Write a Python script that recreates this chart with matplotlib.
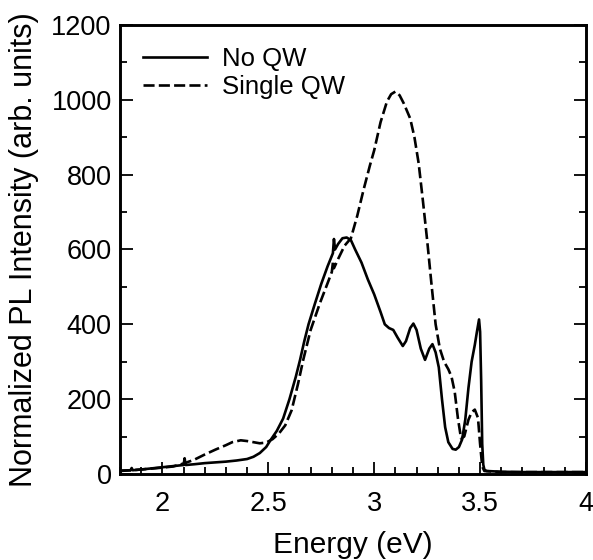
import matplotlib
matplotlib.use("Agg")
import matplotlib.pyplot as plt
from matplotlib.ticker import MultipleLocator

plt.rcParams['font.family'] = ['Liberation Sans', 'DejaVu Sans']

# No QW (solid)
e_noqw = [1.80, 1.85, 1.855, 1.86, 1.90, 1.95, 2.00, 2.05, 2.10, 2.105, 2.11, 2.15, 2.20, 2.25,
          2.30, 2.35, 2.40, 2.43, 2.46, 2.49, 2.51, 2.54, 2.57, 2.60, 2.63, 2.65, 2.67, 2.69,
          2.72, 2.75, 2.78, 2.805, 2.81, 2.815, 2.83, 2.85, 2.87, 2.89, 2.91, 2.94, 2.97,
          3.00, 3.03, 3.05, 3.07, 3.09, 3.11, 3.135, 3.15, 3.17, 3.185, 3.20, 3.22, 3.24,
          3.26, 3.275, 3.29, 3.305, 3.32, 3.335, 3.35, 3.37, 3.385, 3.40, 3.415, 3.43, 3.445,
          3.46, 3.475, 3.485, 3.495, 3.50, 3.505, 3.51, 3.515, 3.52, 3.53, 3.60, 3.70, 3.80,
          3.90, 4.00]
i_noqw = [9, 10, 16, 10, 12, 15, 18, 21, 24, 42, 24, 26, 29, 31,
          33, 36, 40, 46, 56, 72, 90, 115, 148, 200, 260, 305, 355, 400,
          455, 508, 555, 590, 628, 600, 615, 630, 632, 625, 600, 565, 520,
          480, 433, 400, 390, 385, 365, 342, 355, 390, 402, 385, 335, 305,
          335, 347, 325, 285, 200, 125, 85, 67, 65, 72, 92, 145, 230,
          300, 345, 380, 413, 380, 250, 80, 25, 12, 8, 6, 5, 5,
          5, 5]

# Single QW (dashed)
e_sqw = [1.80, 1.90, 2.00, 2.05, 2.10, 2.15, 2.20, 2.25, 2.30, 2.33, 2.37, 2.40, 2.43, 2.46,
         2.49, 2.52, 2.55, 2.58, 2.61, 2.64, 2.665, 2.70, 2.744, 2.78, 2.80, 2.806, 2.81,
         2.83, 2.86, 2.89, 2.92, 2.95, 2.98, 3.00, 3.03, 3.06, 3.08, 3.10, 3.12, 3.14, 3.17,
         3.19, 3.21, 3.23, 3.25, 3.27, 3.29, 3.31, 3.33, 3.35, 3.365, 3.38, 3.395, 3.41,
         3.425, 3.445, 3.46, 3.475, 3.49, 3.50, 3.51, 3.52, 3.60, 3.70, 3.80, 3.90, 4.00]
i_sqw = [8, 12, 17, 20, 28, 38, 52, 65, 77, 85, 90, 88, 85, 82,
         84, 93, 108, 130, 170, 240, 305, 385, 457, 510, 540, 570, 550,
         575, 610, 630, 690, 760, 825, 865, 940, 995, 1015, 1022, 1012, 990, 950,
         900, 830, 730, 625, 510, 400, 335, 300, 280, 260, 220, 150, 95,
         100, 145, 165, 172, 150, 80, 20, 8, 5, 5, 5, 5, 5]

fig = plt.figure(figsize=(5.93, 5.6), dpi=100)
ax = fig.add_axes([0.2024, 0.1536, 0.7858, 0.8018])

ax.plot(e_noqw, i_noqw, color='black', lw=1.9, label='No QW')
ax.plot(e_sqw, i_sqw, color='black', lw=1.9, linestyle=(0, (4.2, 1.6)), label='Single QW')

ax.set_xlim(1.8, 4.0)
ax.set_ylim(0, 1200)
ax.xaxis.set_minor_locator(MultipleLocator(0.1))
ax.yaxis.set_major_locator(MultipleLocator(200))
ax.yaxis.set_minor_locator(MultipleLocator(100))
ax.set_xticks([2, 2.5, 3, 3.5, 4])
ax.set_xticklabels(['2', '2.5', '3', '3.5', '4'])

ax.tick_params(axis='both', which='both', direction='in', labelsize=19.5, width=1.3)
ax.tick_params(axis='x', which='major', length=9, pad=12, top=False)
ax.tick_params(axis='x', which='minor', length=5, top=False)
ax.tick_params(axis='y', which='major', length=9, pad=6, right=True)
ax.tick_params(axis='y', which='minor', length=5, right=True)

for s in ax.spines.values():
    s.set_linewidth(2.1)

ax.set_xlabel('Energy (eV)', fontsize=21.5, labelpad=10)
ax.set_ylabel('Normalized PL Intensity (arb. units)', fontsize=22, labelpad=9)

ax.legend(loc='upper left', frameon=False, fontsize=18.5, handlelength=2.5,
          handletextpad=0.6, labelspacing=0.15, borderaxespad=0.3,
          bbox_to_anchor=(0.01, 0.99))

fig.savefig('out.png', dpi=100)
